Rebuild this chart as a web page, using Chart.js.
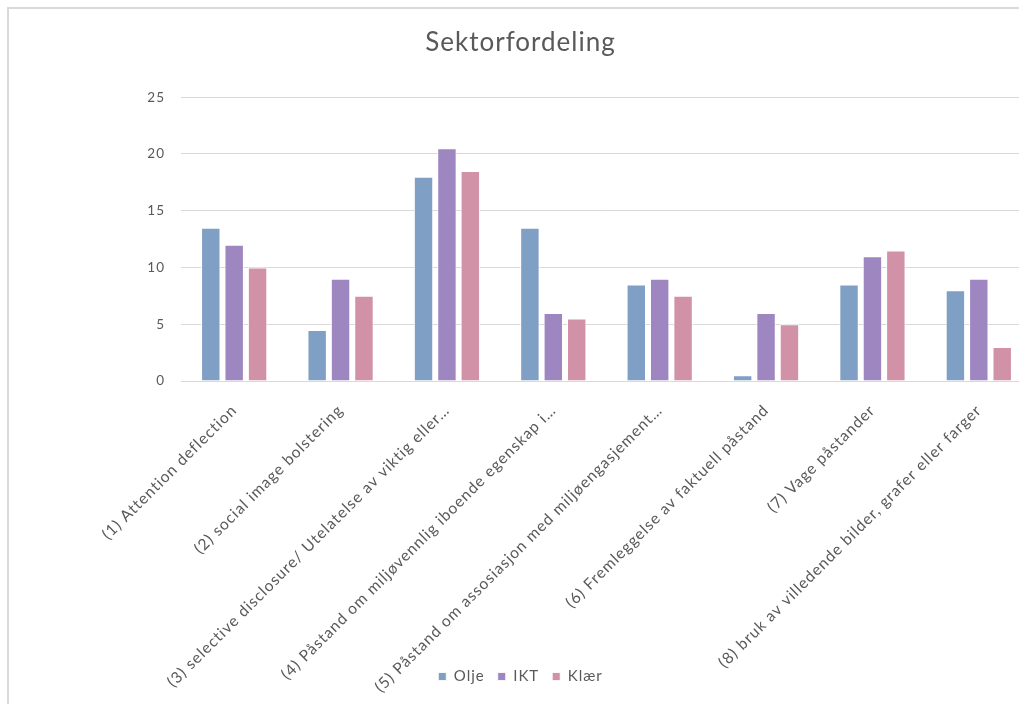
<!DOCTYPE html>
<html>
<head>
<meta charset="utf-8">
<script src="https://cdn.jsdelivr.net/npm/chart.js@4"></script>
<style>
  html, body { margin: 0; padding: 0; background: #fff; overflow: hidden; }
  #frame {
    position: absolute; left: 7px; top: 7px;
    width: 1100px; height: 760px;
    border: 2px solid #d9d9d9;
  }
  #chart { position: absolute; left: 0; top: 0; }
</style>
</head>
<body>
<div id="frame">
  <canvas id="chart" width="1030" height="695"></canvas>
</div>
<script>
// Categories (long ones are cut the same way the axis shows them)
const categories = [
    '(1) Attention deflection',
    '(2) social image bolstering',
    '(3) selective disclosure/ Utelatelse av viktig eller…',
    '(4) Påstand om miljøvennlig iboende egenskap i…',
    '(5) Påstand om assosiasjon med miljøengasjement…',
    '(6) Fremleggelse av faktuell påstand',
    '(7) Vage påstander',
    '(8) bruk av villedende bilder, grafer eller farger'
];

// Series values per sector
const olje = [13.5, 4.5, 18, 13.5, 8.5, 0.5, 8.5, 8];
const ikt  = [12, 9, 20.5, 6, 9, 6, 11, 9];
const klaer = [10, 7.5, 18.5, 5.5, 7.5, 5, 11.5, 3];

const seriesNames = ['Olje', 'IKT', 'Klær'];
const seriesColors = ['#809fc4', '#9e86c0', '#d191a6'];

const yTicks = [0, 5, 10, 15, 20, 25];

const textColor = '#595959';
const fontFamily = 'Lato, "Open Sans", sans-serif';

// Loose letter spacing for all chart text, set before layout so the
// measured widths include it
const spacedText = {
    id: 'spacedText',
    beforeUpdate(chart) {
        chart.ctx.letterSpacing = '1px';
    }
};

const ctx = document.getElementById('chart').getContext('2d');
const chart = new Chart(ctx, {
    type: 'bar',
    data: {
        labels: categories,
        datasets: [olje, ikt, klaer].map((values, i) => ({
            label: seriesNames[i],
            data: values,
            backgroundColor: seriesColors[i],
            borderColor: 'rgba(255, 255, 255, 0.85)',
            borderWidth: 1,
            categoryPercentage: 0.66,
            barPercentage: 0.83
        }))
    },
    options: {
        responsive: false,
        animation: false,
        layout: {
            padding: { top: 12, left: 0, right: 7, bottom: 10 }
        },
        plugins: {
            title: {
                display: true,
                text: 'Sektorfordeling',
                color: textColor,
                font: { family: fontFamily, size: 26, weight: 'normal' },
                padding: { top: 6, bottom: 39 }
            },
            legend: {
                position: 'bottom',
                labels: {
                    color: textColor,
                    font: { family: fontFamily, size: 15 },
                    boxWidth: 8,
                    boxHeight: 8,
                    padding: 13
                }
            },
            tooltip: { enabled: false }
        },
        scales: {
            x: {
                grid: { display: false },
                border: { color: '#d9d9d9' },
                ticks: {
                    color: textColor,
                    font: { family: fontFamily, size: 15.6 },
                    autoSkip: false,
                    minRotation: 45,
                    maxRotation: 45,
                    padding: 12
                },
                afterFit(scale) {
                    scale.height = 275;
                    // long labels run down past the axis box, next to the legend
                    scale._computeLabelArea = () => undefined;
                }
            },
            y: {
                min: yTicks[0],
                max: yTicks[yTicks.length - 1],
                afterBuildTicks(scale) {
                    scale.ticks = yTicks.map(v => ({ value: v }));
                },
                grid: { color: '#d9d9d9', drawTicks: false },
                border: { display: false },
                ticks: {
                    color: textColor,
                    font: { family: fontFamily, size: 13.5 },
                    padding: 16
                },
                afterFit(scale) {
                    scale.width = 172;
                }
            }
        }
    },
    plugins: [spacedText]
});
</script>
</body>
</html>
